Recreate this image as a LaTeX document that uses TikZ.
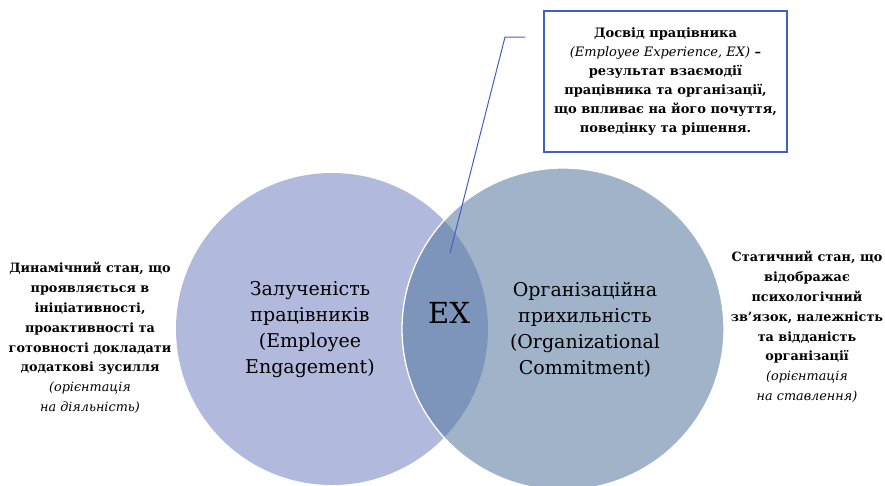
\documentclass[tikz,border=0pt]{standalone}
\usepackage{fontspec}
\setmainfont{DejaVu Serif}
\definecolor{engfill}{RGB}{177,186,220}
\definecolor{comfill}{RGB}{160,179,201}
\definecolor{exfill}{RGB}{125,149,187}
\definecolor{callblue}{RGB}{64,96,196}
\begin{document}
\begin{tikzpicture}[x=1pt,y=-1pt,
  sidetext/.style={align=center, font=\bfseries\fontsize{12.8}{19.8}\selectfont, text=black, inner sep=0pt},
  circtext/.style={align=center, font=\fontsize{19}{26}\selectfont, text=black, inner sep=0pt},
  calltext/.style={align=center, font=\bfseries\fontsize{13}{19}\selectfont, text=black, inner sep=0pt},
  callbox/.style={draw=callblue, line width=1.1pt, fill=white, minimum width=243pt, minimum height=141pt, inner sep=0pt},
  callout/.style={draw=callblue, line width=1pt}]
\useasboundingbox (0,0) rectangle (885,485);

% two overlapping sets
\node[circle, fill=engfill, minimum size=312pt, inner sep=0pt] (eng) at (332,329) {};
\node[circle, fill=comfill, minimum size=322pt, inner sep=0pt] (com) at (563,329) {};
\begin{scope}
  \clip (332,329) circle[radius=156pt];
  \fill[exfill] (563,329) circle[radius=161pt];
\end{scope}
\draw[white, line width=1.3pt] (563,329) circle[radius=161pt];

% labels inside the sets
\node[circtext] (engl) at (310,330) {Залученість\\працівників\\(Employee\\Engagement)};
\node[circtext] (coml) at (585,330) {Організаційна\\прихильність\\(Organizational\\Commitment)};
\node[font=\fontsize{29}{34}\selectfont, inner sep=0pt] (ex) at (449,313) {EX};

% side descriptions
\node[sidetext] (left) at (90,338) {Динамічний стан, що\\проявляється в\\ініціативності,\\проактивності та\\готовності докладати\\додаткові зусилля\\{\mdseries\itshape (орієнтація}\\{\mdseries\itshape на діяльність)}};
\node[sidetext] (right) at (807,327) {Статичний стан, що\\відображає\\психологічний\\зв’язок, належність\\та відданість\\організації\\{\mdseries\itshape (орієнтація}\\{\mdseries\itshape на ставлення)}};

% callout
\node[callbox] (box) at (665.5,81.5) {};
\node[calltext] (boxt) at (665.5,81.5) {Досвід працівника\\{\mdseries\itshape (Employee Experience, EX)} –\\результат взаємодії\\працівника та організації,\\що впливає на його почуття,\\поведінку та рішення.};
\coordinate (c1) at (525,37);
\coordinate (c2) at (505,37);
\coordinate (c3) at (450,253);
\draw[callout] (c1) -- (c2) -- (c3);
\end{tikzpicture}
\end{document}
